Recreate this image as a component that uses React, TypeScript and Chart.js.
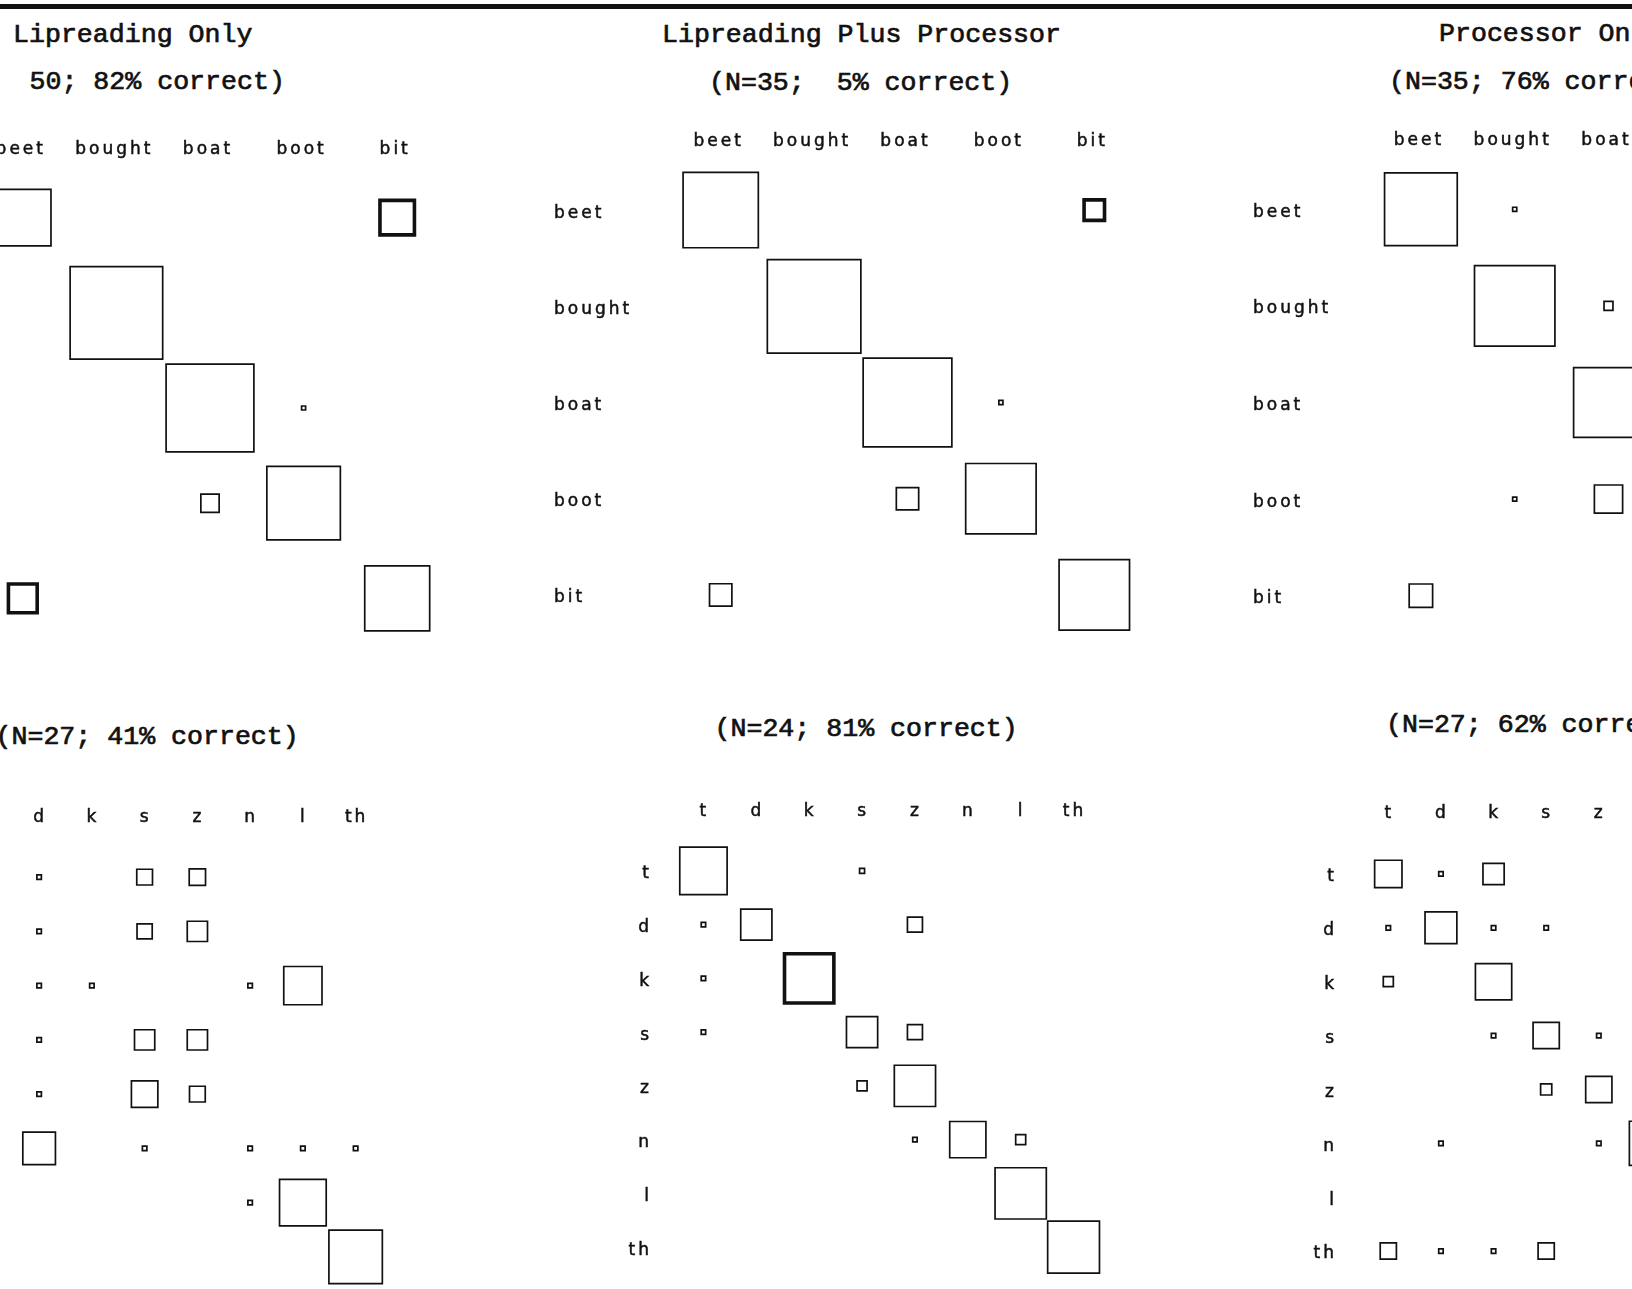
import React, { useEffect, useRef } from "react";
import { Chart, registerables } from "chart.js";

Chart.register(...registerables);

// ---------- data ----------
const vowelLabels = ["beet", "bought", "boat", "boot", "bit"];
const consonantLabels = ["t", "d", "k", "s", "z", "n", "l", "th"];

// proportion of responses (rows = stimulus, columns = response)
const lipreadingVowels = [
  [0.61, 0, 0, 0, 0.4],
  [0, 0.99, 0, 0, 0],
  [0, 0, 0.94, 0.06, 0],
  [0, 0, 0.21, 0.79, 0],
  [0.34, 0, 0, 0, 0.7],
];
const comboVowels = [
  [0.8, 0, 0, 0, 0.25],
  [0, 0.99, 0, 0, 0],
  [0, 0, 0.94, 0.06, 0],
  [0, 0, 0.25, 0.75, 0],
  [0.25, 0, 0, 0, 0.75],
];
const processorVowels = [
  [0.77, 0.06, 0, 0, 0.17],
  [0, 0.85, 0.11, 0, 0.04],
  [0, 0, 0.74, 0.26, 0],
  [0, 0.06, 0.31, 0.63, 0],
  [0.26, 0, 0, 0, 0.74],
];
const lipreadingConsonants = [
  [0.26, 0.11, 0, 0.31, 0.32, 0, 0, 0],
  [0.2, 0.11, 0, 0.3, 0.39, 0, 0, 0],
  [0, 0.11, 0.11, 0, 0, 0.11, 0.71, 0],
  [0, 0.11, 0, 0.39, 0.39, 0, 0, 0],
  [0, 0.11, 0, 0.5, 0.31, 0, 0, 0],
  [0, 0.61, 0, 0.11, 0, 0.11, 0.11, 0.11],
  [0, 0, 0, 0, 0, 0.11, 0.86, 0],
  [0, 0, 0, 0, 0, 0, 0, 0.98],
];
const comboConsonants = [
  [0.88, 0, 0, 0.12, 0, 0, 0, 0],
  [0.11, 0.59, 0, 0, 0.3, 0, 0, 0],
  [0.11, 0, 0.95, 0, 0, 0, 0, 0],
  [0.11, 0, 0, 0.59, 0.3, 0, 0, 0],
  [0, 0, 0, 0.21, 0.77, 0, 0, 0],
  [0, 0, 0, 0, 0.11, 0.68, 0.21, 0],
  [0, 0, 0, 0, 0, 0, 0.95, 0],
  [0, 0, 0, 0, 0, 0, 0, 0.96],
];
const processorConsonants = [
  [0.52, 0.11, 0.41, 0, 0, 0, 0, 0],
  [0.11, 0.6, 0.11, 0.11, 0, 0, 0, 0],
  [0.21, 0, 0.68, 0, 0, 0, 0, 0],
  [0, 0, 0.11, 0.5, 0.11, 0, 0, 0],
  [0, 0, 0, 0.23, 0.5, 0, 0, 0],
  [0, 0.11, 0, 0, 0.11, 0.82, 0, 0],
  [0, 0, 0, 0, 0, 0, 0.9, 0],
  [0.32, 0.11, 0.11, 0.32, 0, 0, 0, 0.14],
];

// cells drawn with a heavy outline in the original
const lipreadingVowelsHeavy = [[0, 4], [4, 0]];
const comboVowelsHeavy = [[0, 4]];
const comboConsonantsHeavy = [[2, 2]];

const headings = [
  { text: "Lipreading Only", left: 13, base: 42.7 },
  { text: "50; 82% correct)", left: 29.5, base: 89.6 },
  { text: "Lipreading Plus Processor", left: 662, base: 42.7 },
  { text: "(N=35;  5% correct)", left: 709, base: 90.5 },
  { text: "Processor Only", left: 1439, base: 41.5 },
  { text: "(N=35; 76% correct)", left: 1389, base: 89.5 },
  { text: "(N=27; 41% correct)", left: -4.5, base: 744.7 },
  { text: "(N=24; 81% correct)", left: 714.5, base: 736.7 },
  { text: "(N=27; 62% correct)", left: 1386, base: 732.7 },
];

// ---------- layout ----------
type PanelCfg = {
  labels: string[];
  values: number[][];
  heavy: number[][];
  area: [number, number, number, number]; // left, top, right, bottom (page px)
  yAxisW: number;
  xAxisH: number;
  xPad: number;
  yPad: number;
  yAlign: "near" | "far";
  xOffset: number;
  sideScale: number;
};

const panels: PanelCfg[] = [
  { labels: vowelLabels, values: lipreadingVowels, heavy: lipreadingVowelsHeavy, area: [-24, 170, 444, 646], yAxisW: 120, xAxisH: 40, xPad: 10, yPad: 0, yAlign: "far", xOffset: -2, sideScale: 1.0 },
  { labels: vowelLabels, values: comboVowels, heavy: comboVowelsHeavy, area: [674, 162, 1141, 643], yAxisW: 120, xAxisH: 40, xPad: 10, yPad: 0, yAlign: "far", xOffset: -2, sideScale: 1.0 },
  { labels: vowelLabels, values: processorVowels, heavy: [], area: [1374, 161, 1843, 644], yAxisW: 121, xAxisH: 40, xPad: 10, yPad: 0, yAlign: "far", xOffset: -2, sideScale: 1.0 },
  { labels: consonantLabels, values: lipreadingConsonants, heavy: [], area: [-40, 850, 382, 1284], yAxisW: 60, xAxisH: 50, xPad: 22, yPad: 25, yAlign: "near", xOffset: 1, sideScale: 1.037 },
  { labels: consonantLabels, values: comboConsonants, heavy: comboConsonantsHeavy, area: [677, 844, 1100, 1274], yAxisW: 60, xAxisH: 50, xPad: 22, yPad: 25, yAlign: "near", xOffset: 1, sideScale: 1.037 },
  { labels: consonantLabels, values: processorConsonants, heavy: [], area: [1362, 847, 1783, 1278], yAxisW: 60, xAxisH: 50, xPad: 23, yPad: 25, yAlign: "near", xOffset: 1, sideScale: 1.037 },
];

const PAD_R = 50;
const PAD_B = 50;
const INK = "#111111";
const THIN = 1.7;
const THICK = 3.6;
const tickFont = { family: "'DejaVu Sans', sans-serif", size: 17 };

const spacingPlugin = {
  id: "plotterSpacing",
  beforeDraw(chart: any) {
    chart.ctx.letterSpacing = "3px";
  },
};

function MatrixPanel({ cfg }: { cfg: PanelCfg }) {
  const ref = useRef<HTMLCanvasElement | null>(null);
  const [aL, aT, aR, aB] = cfg.area;
  const left = aL - cfg.yAxisW;
  const top = aT - cfg.xAxisH;
  const width = aR - left + PAD_R;
  const height = aB - top + PAD_B;

  useEffect(() => {
    if (!ref.current) return;
    const n = cfg.labels.length;
    const isHeavy = (i: number, j: number) => cfg.heavy.some((h) => h[0] === i && h[1] === j);
    const points: any[] = [];
    cfg.values.forEach((row, i) =>
      row.forEach((v, j) => {
        if (v > 0) points.push({ x: j, y: i, v, heavy: isHeavy(i, j) });
      })
    );
    const radiusOf = (c: any) => {
      const raw = c.raw;
      if (!raw) return 3;
      const ys = c.chart.scales.y;
      const cell = Math.abs(ys.getPixelForValue(1) - ys.getPixelForValue(0));
      const bw = raw.heavy ? THICK : THIN;
      return Math.max(raw.v * cell * cfg.sideScale - bw, 1) / Math.SQRT2;
    };
    const widthOf = (c: any) => (c.raw && c.raw.heavy ? THICK : THIN);
    const tickOpts = {
      callback: (v: any) => cfg.labels[v] ?? "",
      autoSkip: false,
      font: tickFont,
      color: INK,
      textStrokeColor: INK,
      textStrokeWidth: 0.5,
    };
    const chart = new Chart(ref.current, {
      type: "scatter",
      data: {
        datasets: [
          {
            data: points,
            pointStyle: "rect",
            backgroundColor: "rgba(0,0,0,0)",
            borderColor: INK,
            pointBorderColor: INK,
            pointBackgroundColor: "rgba(0,0,0,0)",
            pointRadius: radiusOf,
            pointHoverRadius: radiusOf,
            pointBorderWidth: widthOf,
            pointHoverBorderWidth: widthOf,
            clip: false,
          } as any,
        ],
      },
      options: {
        animation: false,
        responsive: false,
        events: [],
        layout: { padding: { left: 0, top: 0, right: PAD_R, bottom: PAD_B } },
        plugins: {
          legend: { display: false },
          tooltip: { enabled: false },
          title: { display: false },
        },
        scales: {
          x: {
            type: "linear",
            position: "top",
            min: -0.5,
            max: n - 0.5,
            grid: { display: false, drawTicks: false },
            border: { display: false },
            afterBuildTicks: (s: any) => {
              s.ticks = cfg.labels.map((_, i) => ({ value: i }));
            },
            afterFit: (s: any) => {
              s.height = cfg.xAxisH;
            },
            ticks: {
              ...tickOpts,
              padding: cfg.xPad,
              labelOffset: cfg.xOffset,
              maxRotation: 0,
              minRotation: 0,
            },
          },
          y: {
            type: "linear",
            position: "left",
            reverse: true,
            min: -0.5,
            max: n - 0.5,
            grid: { display: false, drawTicks: false },
            border: { display: false },
            afterBuildTicks: (s: any) => {
              s.ticks = cfg.labels.map((_, i) => ({ value: i }));
            },
            afterFit: (s: any) => {
              s.width = cfg.yAxisW;
            },
            ticks: {
              ...tickOpts,
              padding: cfg.yPad,
              labelOffset: 3,
              crossAlign: cfg.yAlign,
            },
          },
        },
      } as any,
      plugins: [spacingPlugin as any],
    });
    return () => chart.destroy();
  }, []);

  return (
    <canvas
      ref={ref}
      width={width}
      height={height}
      style={{ position: "absolute", left, top, width, height }}
    />
  );
}

const TITLE_SIZE = 26.6;

export default function App() {
  return (
    <div
      style={{
        position: "fixed",
        left: 0,
        top: 0,
        width: 1632,
        height: 1289,
        overflow: "hidden",
        background: "#ffffff",
      }}
    >
      <div style={{ position: "absolute", left: 0, top: 4, width: 1632, height: 5, background: INK }} />
      {headings.map((h, i) => (
        <div
          key={i}
          style={{
            position: "absolute",
            left: h.left,
            top: h.base - 0.766 * TITLE_SIZE,
            fontFamily: "'Liberation Mono', monospace",
            fontSize: TITLE_SIZE,
            lineHeight: `${TITLE_SIZE}px`,
            whiteSpace: "pre",
            color: INK,
            WebkitTextStroke: `0.7px ${INK}`,
          }}
        >
          {h.text}
        </div>
      ))}
      {panels.map((p, i) => (
        <MatrixPanel key={i} cfg={p} />
      ))}
    </div>
  );
}
